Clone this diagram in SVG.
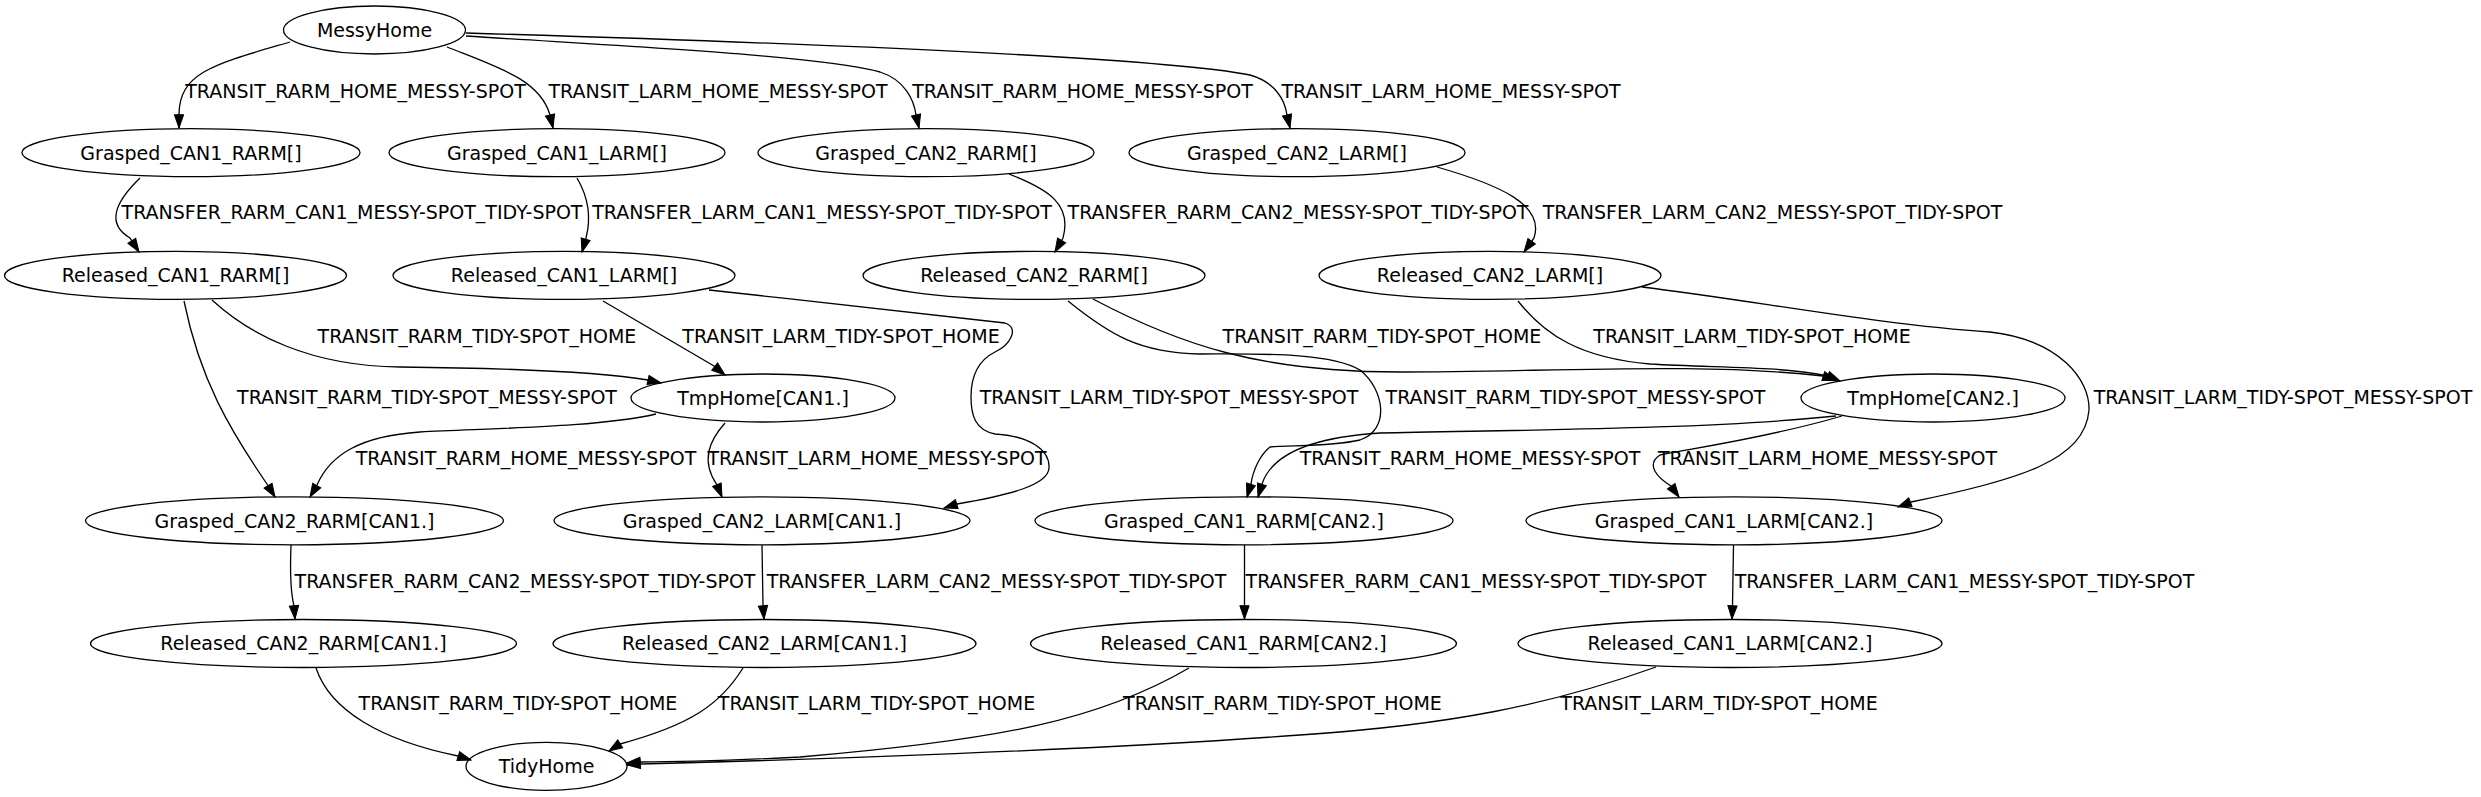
<svg xmlns="http://www.w3.org/2000/svg" width="2481" height="797" viewBox="0 0 2481 797">
<defs>
<style>
.node ellipse{fill:none;stroke:#000;stroke-width:1.3}
text{font-family:"DejaVu Sans","Liberation Sans",sans-serif;font-size:19px;fill:#000;text-anchor:middle}
.edges path{fill:none;stroke:#000;stroke-width:1.3;marker-end:url(#arr)}
</style>
<marker id="arr" markerUnits="userSpaceOnUse" markerWidth="15" markerHeight="11" refX="13.3" refY="4.67" orient="auto" overflow="visible">
<path d="M0,0 L13.3,4.67 L0,9.33 z" fill="#000" stroke="#000" stroke-width="1"/>
</marker>
</defs>
<rect width="2481" height="797" fill="#fff"/>
<g class="edges">
<g id="e1"><path d="M290,42 C215,64 179,72 179,115 L179,128"/><text x="355.5" y="97.5">TRANSIT_RARM_HOME_MESSY-SPOT</text></g>
<g id="e2"><path d="M447,47 C500,68 540,80 550,115 L553,128"/><text x="718" y="97.5">TRANSIT_LARM_HOME_MESSY-SPOT</text></g>
<g id="e3"><path d="M466,36 C600,45 820,55 880,72 C905,80 914,100 916,115 L919,128"/><text x="1082.5" y="97.5">TRANSIT_RARM_HOME_MESSY-SPOT</text></g>
<g id="e4"><path d="M466,33 C700,40 1150,55 1250,75 C1275,82 1285,100 1287,115 L1290,128"/><text x="1451" y="97.5">TRANSIT_LARM_HOME_MESSY-SPOT</text></g>
<g id="e5"><path d="M140,178 C112,205 108,225 130,238 L139,252"/><text x="352" y="218.5">TRANSFER_RARM_CAN1_MESSY-SPOT_TIDY-SPOT</text></g>
<g id="e6"><path d="M577,178 C587,195 592,215 586,238 L582,252"/><text x="822" y="218.5">TRANSFER_LARM_CAN1_MESSY-SPOT_TIDY-SPOT</text></g>
<g id="e7"><path d="M1009,174 C1050,190 1072,205 1063,238 L1055,252"/><text x="1298" y="218.5">TRANSFER_RARM_CAN2_MESSY-SPOT_TIDY-SPOT</text></g>
<g id="e8"><path d="M1437,167 C1500,185 1545,205 1534,238 L1524,252"/><text x="1772.5" y="218.5">TRANSFER_LARM_CAN2_MESSY-SPOT_TIDY-SPOT</text></g>
<g id="e9"><path d="M212,300 C250,335 310,366 400,367 C500,368 600,372 648,380 L661,383"/><text x="477" y="343">TRANSIT_RARM_TIDY-SPOT_HOME</text></g>
<g id="e10"><path d="M184,301 C200,380 230,430 267,484 L275,497"/><text x="427" y="403.5">TRANSIT_RARM_TIDY-SPOT_MESSY-SPOT</text></g>
<g id="e11"><path d="M603,301 L714,366 L725,375"/><text x="841" y="343">TRANSIT_LARM_TIDY-SPOT_HOME</text></g>
<g id="e12"><path d="M709,290 C820,302 960,318 1005,323 C1020,328 1010,345 995,352 C975,362 971,380 971,397 C971,415 975,430 995,434 C1030,436 1050,450 1049,468 C1048,485 1010,495 957,504 L944,508"/><text x="1169" y="403.5">TRANSIT_LARM_TIDY-SPOT_MESSY-SPOT</text></g>
<g id="e13"><path d="M1093,299 C1180,345 1260,372 1400,372 C1550,372 1700,362 1823,376 L1836,380"/><text x="1382" y="343">TRANSIT_RARM_TIDY-SPOT_HOME</text></g>
<g id="e14"><path d="M1068,301 C1110,335 1140,353 1200,354 C1260,354 1330,352 1360,370 C1385,390 1390,430 1360,440 C1330,447 1290,445 1270,447 C1260,455 1253,470 1251,484 L1247,497"/><text x="1575.5" y="403.5">TRANSIT_RARM_TIDY-SPOT_MESSY-SPOT</text></g>
<g id="e15"><path d="M1518,301 C1545,335 1580,358 1650,364 C1720,368 1780,366 1828,376 L1840,381"/><text x="1752" y="343">TRANSIT_LARM_TIDY-SPOT_HOME</text></g>
<g id="e16"><path d="M1642,287 C1750,300 1880,325 1990,332 C2060,340 2090,380 2089,410 C2085,460 2020,480 1911,502 L1898,507"/><text x="2283" y="403.5">TRANSIT_LARM_TIDY-SPOT_MESSY-SPOT</text></g>
<g id="e17"><path d="M656,414 C600,427 500,428 420,432 C360,436 330,455 317,485 L310,497"/><text x="526" y="465">TRANSIT_RARM_HOME_MESSY-SPOT</text></g>
<g id="e18"><path d="M725,423 C710,440 700,460 717,485 L722,497"/><text x="877" y="465">TRANSIT_LARM_HOME_MESSY-SPOT</text></g>
<g id="e19"><path d="M1836,416 C1700,430 1500,430 1380,433 C1300,438 1270,460 1262,484 L1258,497"/><text x="1470" y="465">TRANSIT_RARM_HOME_MESSY-SPOT</text></g>
<g id="e20"><path d="M1842,416 C1760,440 1680,450 1660,455 C1645,465 1658,478 1671,486 L1679,497"/><text x="1827.5" y="465">TRANSIT_LARM_HOME_MESSY-SPOT</text></g>
<g id="e21"><path d="M291,545 C290,570 290,590 294,606 L295,619"/><text x="525" y="587.5">TRANSFER_RARM_CAN2_MESSY-SPOT_TIDY-SPOT</text></g>
<g id="e22"><path d="M762,545 L763,606 L764,619"/><text x="996.5" y="587.5">TRANSFER_LARM_CAN2_MESSY-SPOT_TIDY-SPOT</text></g>
<g id="e23"><path d="M1244.5,545 L1244.5,606 L1244.5,619"/><text x="1476" y="587.5">TRANSFER_RARM_CAN1_MESSY-SPOT_TIDY-SPOT</text></g>
<g id="e24"><path d="M1733.5,545 L1732.5,606 L1732,619"/><text x="1964.5" y="587.5">TRANSFER_LARM_CAN1_MESSY-SPOT_TIDY-SPOT</text></g>
<g id="e25"><path d="M316,668 C330,710 380,740 458,756 L471,760"/><text x="518" y="710">TRANSIT_RARM_TIDY-SPOT_HOME</text></g>
<g id="e26"><path d="M743,668 C720,705 690,725 620,744 L609,751"/><text x="876.5" y="710">TRANSIT_LARM_TIDY-SPOT_HOME</text></g>
<g id="e27"><path d="M1189,668 C1100,720 1000,740 800,757 C700,762 660,762 640,762 L627,763"/><text x="1282.5" y="710">TRANSIT_RARM_TIDY-SPOT_HOME</text></g>
<g id="e28"><path d="M1656,667 C1550,705 1450,725 1300,735 C1100,750 800,760 640,764 L627,765"/><text x="1719" y="710">TRANSIT_LARM_TIDY-SPOT_HOME</text></g>
</g>
<g id="MessyHome" class="node"><ellipse cx="374.5" cy="30" rx="91" ry="24"/><text x="374.5" y="36.8">MessyHome</text></g>
<g id="Grasped_CAN1_RARM" class="node"><ellipse cx="191" cy="152.7" rx="169" ry="24"/><text x="191" y="159.5">Grasped_CAN1_RARM[]</text></g>
<g id="Grasped_CAN1_LARM" class="node"><ellipse cx="557" cy="152.7" rx="168" ry="24"/><text x="557" y="159.5">Grasped_CAN1_LARM[]</text></g>
<g id="Grasped_CAN2_RARM" class="node"><ellipse cx="926" cy="152.7" rx="168" ry="24"/><text x="926" y="159.5">Grasped_CAN2_RARM[]</text></g>
<g id="Grasped_CAN2_LARM" class="node"><ellipse cx="1297" cy="152.7" rx="168" ry="24"/><text x="1297" y="159.5">Grasped_CAN2_LARM[]</text></g>
<g id="Released_CAN1_RARM" class="node"><ellipse cx="175.5" cy="275.4" rx="171" ry="24"/><text x="175.5" y="282.2">Released_CAN1_RARM[]</text></g>
<g id="Released_CAN1_LARM" class="node"><ellipse cx="564" cy="275.4" rx="171" ry="24"/><text x="564" y="282.2">Released_CAN1_LARM[]</text></g>
<g id="Released_CAN2_RARM" class="node"><ellipse cx="1034" cy="275.4" rx="171" ry="24"/><text x="1034" y="282.2">Released_CAN2_RARM[]</text></g>
<g id="Released_CAN2_LARM" class="node"><ellipse cx="1490" cy="275.4" rx="171" ry="24"/><text x="1490" y="282.2">Released_CAN2_LARM[]</text></g>
<g id="TmpHome_CAN1" class="node"><ellipse cx="763" cy="398" rx="132" ry="24"/><text x="763" y="404.8">TmpHome[CAN1.]</text></g>
<g id="TmpHome_CAN2" class="node"><ellipse cx="1933" cy="398" rx="132" ry="24"/><text x="1933" y="404.8">TmpHome[CAN2.]</text></g>
<g id="Grasped_CAN2_RARM_CAN1" class="node"><ellipse cx="294.5" cy="520.8" rx="209" ry="24"/><text x="294.5" y="527.6">Grasped_CAN2_RARM[CAN1.]</text></g>
<g id="Grasped_CAN2_LARM_CAN1" class="node"><ellipse cx="762" cy="520.8" rx="208" ry="24"/><text x="762" y="527.6">Grasped_CAN2_LARM[CAN1.]</text></g>
<g id="Grasped_CAN1_RARM_CAN2" class="node"><ellipse cx="1244" cy="520.8" rx="209" ry="24"/><text x="1244" y="527.6">Grasped_CAN1_RARM[CAN2.]</text></g>
<g id="Grasped_CAN1_LARM_CAN2" class="node"><ellipse cx="1734" cy="520.8" rx="208" ry="24"/><text x="1734" y="527.6">Grasped_CAN1_LARM[CAN2.]</text></g>
<g id="Released_CAN2_RARM_CAN1" class="node"><ellipse cx="303.5" cy="643.5" rx="213" ry="24"/><text x="303.5" y="650.3">Released_CAN2_RARM[CAN1.]</text></g>
<g id="Released_CAN2_LARM_CAN1" class="node"><ellipse cx="764.5" cy="643.5" rx="211.5" ry="24"/><text x="764.5" y="650.3">Released_CAN2_LARM[CAN1.]</text></g>
<g id="Released_CAN1_RARM_CAN2" class="node"><ellipse cx="1243.5" cy="643.5" rx="213" ry="24"/><text x="1243.5" y="650.3">Released_CAN1_RARM[CAN2.]</text></g>
<g id="Released_CAN1_LARM_CAN2" class="node"><ellipse cx="1730" cy="643.5" rx="212" ry="24"/><text x="1730" y="650.3">Released_CAN1_LARM[CAN2.]</text></g>
<g id="TidyHome" class="node"><ellipse cx="546.5" cy="766.3" rx="80.5" ry="24"/><text x="546.5" y="773.1">TidyHome</text></g>
</svg>
